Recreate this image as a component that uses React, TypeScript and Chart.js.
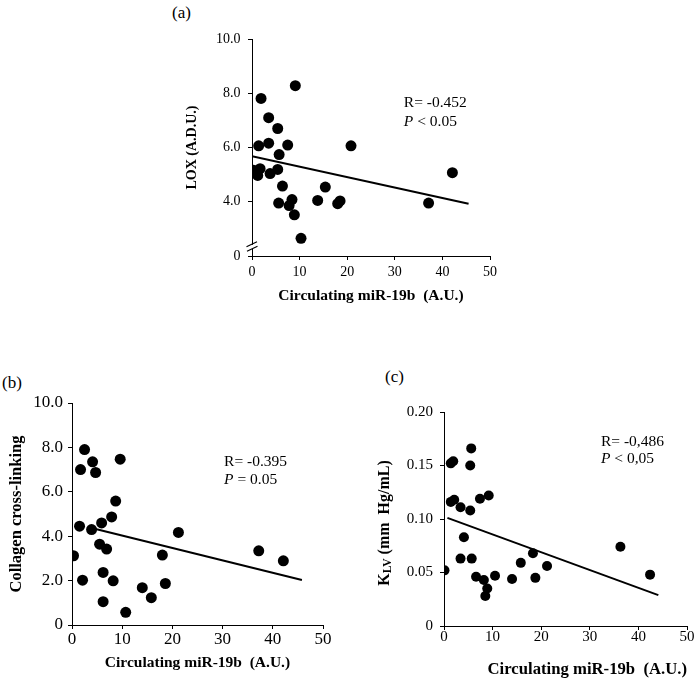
import React, { useEffect, useRef } from "react";
import { Chart, registerables } from "chart.js";

Chart.register(...registerables);

const FONT = "'Liberation Serif', 'Times New Roman', serif";

// ---------- shared axis ----------
const xTickValues = [0, 10, 20, 30, 40, 50];
const xTitleText = "Circulating miR-19b  (A.U.)";

// ---------- panel (a): LOX ----------
const loxX = [9.1, 1.9, 3.5, 5.4, 1.4, 3.5, 7.5, 20.8, 5.7, 0.3, 1.7, 1.2, 3.8, 5.4, 6.4, 15.4, 5.6, 8.4, 7.8, 13.8, 18.0, 18.5, 8.9, 10.3, 37.1, 42.1];
const loxY = [8.28, 7.81, 7.10, 6.70, 6.06, 6.16, 6.09, 6.06, 5.74, 5.16, 5.22, 4.97, 5.04, 5.19, 4.58, 4.54, 3.95, 4.08, 3.86, 4.05, 3.93, 4.03, 3.52, 2.65, 3.95, 5.07];
const loxFitX = [0, 45.5];
const loxFitY = [5.68, 3.93];
const loxYTicks = [2, 4, 6, 8, 10];
const loxYTickLabels = ["0", "4.0", "6.0", "8.0", "10.0"];

// ---------- panel (b): collagen cross-linking ----------
const cclX = [2.5, 4.1, 1.7, 4.7, 9.6, 8.7, 7.9, 5.9, 1.5, 3.9, 5.5, 6.9, 0.3, 18.0, 2.1, 6.2, 8.2, 14.0, 18.6, 15.8, 6.2, 10.7, 21.2, 37.2, 42.1];
const cclY = [7.90, 7.35, 7.00, 6.87, 7.47, 5.58, 4.87, 4.60, 4.45, 4.30, 3.64, 3.42, 3.12, 3.15, 2.02, 2.37, 1.99, 1.68, 1.87, 1.23, 1.05, 0.57, 4.17, 3.34, 2.89];
const cclFitX = [3.5, 45.8];
const cclFitY = [4.39, 2.03];
const cclYTicks = [0, 2, 4, 6, 8, 10];
const cclYTickLabels = ["0", "2.0", "4.0", "6.0", "8.0", "10.0"];

// ---------- panel (c): KLV ----------
const klvX = [5.6, 1.4, 1.9, 5.4, 1.4, 2.1, 3.4, 5.4, 7.4, 9.2, 4.1, 3.4, 5.7, 0.1, 6.6, 8.2, 10.5, 8.9, 8.5, 14.0, 15.8, 18.3, 18.8, 21.2, 36.3, 42.4];
const klvY = [0.166, 0.152, 0.154, 0.150, 0.116, 0.118, 0.111, 0.108, 0.119, 0.122, 0.083, 0.063, 0.063, 0.052, 0.046, 0.043, 0.047, 0.035, 0.028, 0.044, 0.059, 0.068, 0.045, 0.056, 0.074, 0.048];
const klvFitX = [0.7, 44.1];
const klvFitY = [0.101, 0.0288];
const klvYTicks = [0, 0.05, 0.1, 0.15, 0.2];
const klvYTickLabels = ["0", "0.05", "0.10", "0.15", "0.20"];

type Annot = { x: number; y1: number; y2: number; r: string; p: string; size: number };

type PanelCfg = {
  xs: number[];
  ys: number[];
  fitX: number[];
  fitY: number[];
  yTicks: number[];
  yTickLabels: string[];
  yMin: number;
  yMax: number;
  left: number;
  top: number;
  width: number;
  height: number;
  padTop: number;
  padRight: number;
  yAxisWidth: number;
  xAxisHeight: number;
  tickSize: number;
  xTickPad: number;
  yTickPad: number;
  yTitle: string | null;
  yTitleSize: number;
  yTitlePad: number;
  xTitleSize: number;
  xTitlePad: number;
  xTitleAlign: "center" | "end";
  pointRadius: number;
  annot: Annot;
  breakAt?: number;
  klvTitle?: { cx: number; dy: number; size: number };
};

const annotPlugin = {
  id: "annot",
  afterDatasetsDraw(chart: any, _args: any, opts: any) {
    const a: Annot | undefined = opts && opts.data;
    if (!a) return;
    const { ctx } = chart;
    const xs = chart.scales.x;
    const ys = chart.scales.y;
    const px = xs.getPixelForValue(a.x);
    ctx.save();
    ctx.fillStyle = "#000";
    ctx.textAlign = "left";
    ctx.textBaseline = "middle";
    ctx.font = `${a.size}px ${FONT}`;
    ctx.fillText(a.r, px, ys.getPixelForValue(a.y1));
    const py2 = ys.getPixelForValue(a.y2);
    ctx.font = `italic ${a.size}px ${FONT}`;
    ctx.fillText("P", px, py2);
    const w = ctx.measureText("P").width;
    ctx.font = `${a.size}px ${FONT}`;
    ctx.fillText(a.p, px + w, py2);
    ctx.restore();
  },
};

const breakPlugin = {
  id: "axisBreak",
  afterDraw(chart: any, _args: any, opts: any) {
    if (!opts || opts.at == null) return;
    const { ctx } = chart;
    const ys = chart.scales.y;
    const ax = chart.chartArea.left;
    const py = ys.getPixelForValue(opts.at);
    ctx.save();
    ctx.fillStyle = "#fff";
    ctx.fillRect(ax - 2, py - 2.5, 4, 4);
    ctx.strokeStyle = "#000";
    ctx.lineWidth = 1.2;
    ctx.beginPath();
    ctx.moveTo(ax - 5.5, py - 0.5);
    ctx.lineTo(ax + 5, py - 5.5);
    ctx.moveTo(ax - 5, py + 4);
    ctx.lineTo(ax + 5.5, py - 1);
    ctx.stroke();
    ctx.restore();
  },
};

const klvTitlePlugin = {
  id: "klvTitle",
  afterDraw(chart: any, _args: any, opts: any) {
    if (!opts || !opts.data) return;
    const { cx, dy, size } = opts.data;
    const { ctx, chartArea } = chart;
    const cy = (chartArea.top + chartArea.bottom) / 2 + dy;
    const subSize = size * 0.72;
    const parts = [
      { t: "K", s: size, off: 0 },
      { t: "LV", s: subSize, off: size * 0.22 },
      { t: " (mm  Hg/mL)", s: size, off: 0 },
    ];
    ctx.save();
    ctx.translate(cx, cy);
    ctx.rotate(-Math.PI / 2);
    ctx.fillStyle = "#000";
    ctx.textBaseline = "middle";
    ctx.textAlign = "left";
    let total = 0;
    const widths: number[] = [];
    for (const p of parts) {
      ctx.font = `bold ${p.s}px ${FONT}`;
      const w = ctx.measureText(p.t).width;
      widths.push(w);
      total += w;
    }
    let x = -total / 2;
    parts.forEach((p, i) => {
      ctx.font = `bold ${p.s}px ${FONT}`;
      ctx.fillText(p.t, x, p.off);
      x += widths[i];
    });
    ctx.restore();
  },
};

function Panel({ cfg }: { cfg: PanelCfg }) {
  const ref = useRef<HTMLCanvasElement | null>(null);
  useEffect(() => {
    const canvas = ref.current;
    if (!canvas) return;
    const tickFont = { family: FONT, size: cfg.tickSize, lineHeight: 1 };
    const chart = new Chart(canvas, {
      type: "scatter",
      data: {
        datasets: [
          {
            data: cfg.xs.map((x, i) => ({ x, y: cfg.ys[i] })),
            backgroundColor: "#000",
            borderColor: "#000",
            borderWidth: 0,
            pointRadius: cfg.pointRadius,
            pointHoverRadius: cfg.pointRadius,
          },
          {
            data: cfg.fitX.map((x, i) => ({ x, y: cfg.fitY[i] })),
            showLine: true,
            borderColor: "#000",
            borderWidth: 2,
            pointRadius: 0,
            fill: false,
          } as any,
        ],
      },
      options: {
        animation: false,
        responsive: false,
        maintainAspectRatio: false,
        events: [],
        layout: { padding: { top: cfg.padTop, right: cfg.padRight, bottom: 0, left: 0 } },
        plugins: {
          legend: { display: false },
          tooltip: { enabled: false },
          annot: { data: cfg.annot },
          axisBreak: { at: cfg.breakAt },
          klvTitle: { data: cfg.klvTitle },
        } as any,
        scales: {
          x: {
            type: "linear",
            min: 0,
            max: 50,
            afterFit: (s: any) => {
              s.height = cfg.xAxisHeight;
            },
            afterBuildTicks: (s: any) => {
              s.ticks = xTickValues.map((v) => ({ value: v }));
            },
            ticks: {
              color: "#000",
              font: tickFont,
              padding: cfg.xTickPad,
              maxRotation: 0,
              autoSkip: false,
              callback: (v: any) => String(v),
            },
            grid: { display: true, drawOnChartArea: false, drawTicks: true, tickLength: 4, color: "#000", lineWidth: 1 },
            border: { display: true, color: "#000", width: 1 },
            title: {
              display: true,
              text: xTitleText,
              color: "#000",
              align: cfg.xTitleAlign,
              font: { family: FONT, size: cfg.xTitleSize, weight: "bold", lineHeight: 1.2 },
              padding: { top: 0, bottom: cfg.xTitlePad },
            },
          },
          y: {
            type: "linear",
            min: cfg.yMin,
            max: cfg.yMax,
            afterFit: (s: any) => {
              s.width = cfg.yAxisWidth;
            },
            afterBuildTicks: (s: any) => {
              s.ticks = cfg.yTicks.map((v) => ({ value: v }));
            },
            ticks: {
              color: "#000",
              font: tickFont,
              padding: cfg.yTickPad,
              autoSkip: false,
              callback: (v: any) => {
                const i = cfg.yTicks.findIndex((t) => Math.abs(t - Number(v)) < 1e-9);
                return i >= 0 ? cfg.yTickLabels[i] : "";
              },
            },
            grid: { display: true, drawOnChartArea: false, drawTicks: true, tickLength: 4, color: "#000", lineWidth: 1 },
            border: { display: true, color: "#000", width: 1 },
            title: {
              display: !!cfg.yTitle,
              text: cfg.yTitle || "",
              color: "#000",
              font: { family: FONT, size: cfg.yTitleSize, weight: "bold", lineHeight: 1.2 },
              padding: { top: cfg.yTitlePad, bottom: 0 },
            },
          },
        },
      } as any,
      plugins: [annotPlugin, breakPlugin, klvTitlePlugin],
    });
    return () => chart.destroy();
  }, [cfg]);
  return (
    <canvas
      ref={ref}
      width={cfg.width}
      height={cfg.height}
      style={{ position: "absolute", left: cfg.left, top: cfg.top, width: cfg.width, height: cfg.height }}
    />
  );
}

const panelA: PanelCfg = {
  xs: loxX, ys: loxY, fitX: loxFitX, fitY: loxFitY,
  yTicks: loxYTicks, yTickLabels: loxYTickLabels, yMin: 2, yMax: 10,
  left: 150, top: 0, width: 360, height: 310,
  padTop: 39, padRight: 20, yAxisWidth: 102, xAxisHeight: 54,
  tickSize: 14, xTickPad: 5, yTickPad: 7.5,
  yTitle: "LOX (A.D.U.)", yTitleSize: 14, yTitlePad: 33.6,
  xTitleSize: 15.5, xTitlePad: 5, xTitleAlign: "center",
  pointRadius: 5.5,
  annot: { x: 31.9, y1: 7.64, y2: 6.95, r: "R= -0.452", p: " < 0.05", size: 15.5 },
  breakAt: 2.32,
};

const panelB: PanelCfg = {
  xs: cclX, ys: cclY, fitX: cclFitX, fitY: cclFitY,
  yTicks: cclYTicks, yTickLabels: cclYTickLabels, yMin: 0, yMax: 10,
  left: 0, top: 380, width: 340, height: 303,
  padTop: 23, padRight: 17, yAxisWidth: 72, xAxisHeight: 58,
  tickSize: 17, xTickPad: 2, yTickPad: 5,
  yTitle: "Collagen cross-linking", yTitleSize: 16.5, yTitlePad: 6.8,
  xTitleSize: 15.5, xTitlePad: 10.4, xTitleAlign: "center",
  pointRadius: 5.5,
  annot: { x: 30.3, y1: 7.35, y2: 6.55, r: "R= -0.395", p: " = 0.05", size: 15.5 },
};

const panelC: PanelCfg = {
  xs: klvX, ys: klvY, fitX: klvFitX, fitY: klvFitY,
  yTicks: klvYTicks, yTickLabels: klvYTickLabels, yMin: 0, yMax: 0.2,
  left: 350, top: 380, width: 347, height: 303,
  padTop: 32, padRight: 10, yAxisWidth: 94, xAxisHeight: 57,
  tickSize: 15, xTickPad: 0, yTickPad: 7,
  yTitle: null, yTitleSize: 15, yTitlePad: 0,
  xTitleSize: 16.7, xTitlePad: 3, xTitleAlign: "end",
  pointRadius: 5,
  annot: { x: 32.3, y1: 0.1724, y2: 0.156, r: "R= -0,486", p: " < 0,05", size: 15.5 },
  klvTitle: { cx: 35, dy: 4, size: 16 },
};

const labelStyle = (left: number, top: number): React.CSSProperties => ({
  position: "absolute",
  left,
  top,
  fontFamily: FONT,
  fontSize: 17,
  lineHeight: "17px",
  color: "#000",
  whiteSpace: "nowrap",
});

export default function App() {
  return (
    <div style={{ position: "fixed", left: 0, top: 0, width: 697, height: 683, background: "#fff", overflow: "hidden" }}>
      <div style={labelStyle(172, 4)}>(a)</div>
      <div style={labelStyle(2, 374)}>(b)</div>
      <div style={labelStyle(385, 368)}>(c)</div>
      <Panel cfg={panelA} />
      <Panel cfg={panelB} />
      <Panel cfg={panelC} />
    </div>
  );
}
